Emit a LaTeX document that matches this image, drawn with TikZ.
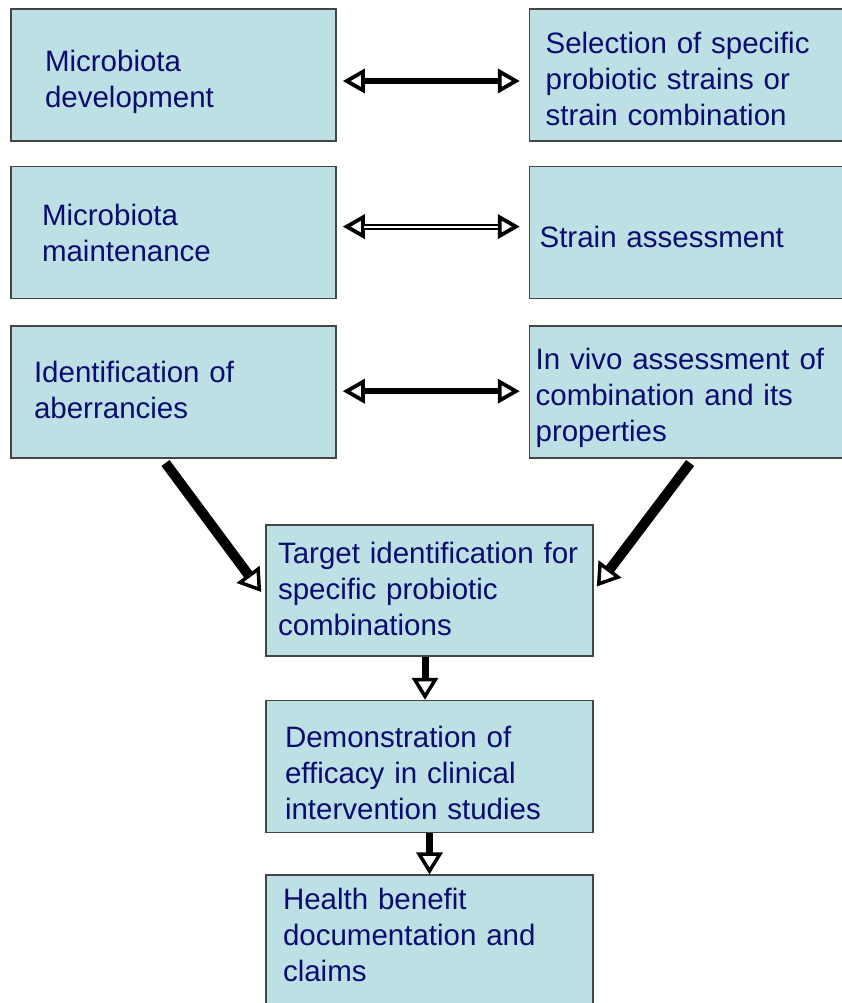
\documentclass[tikz,border=0pt]{standalone}
\usepackage{fontspec}
\setmainfont{Liberation Sans}
\usepackage{xcolor}
\usetikzlibrary{arrows.meta,positioning}

\definecolor{boxfill}{HTML}{BCE0E3}
\definecolor{boxline}{HTML}{454545}
\definecolor{navy}{HTML}{0C0C70}

\begin{document}
\begin{tikzpicture}[
  x=1pt, y=1pt,
  box/.style={draw=boxline, fill=boxfill, line width=1.6pt, align=left,
              minimum width=325pt, minimum height=132pt, inner sep=0pt,
              text=navy, font=\fontsize{29.5}{36}\selectfont},
  wide/.style={box, minimum width=331pt},
  pushdown/.style={text height=21.3pt+2*#1},
  pushup/.style={execute at end node={\endgraf\vspace*{#1}}},
  link/.style={line width=6pt,
               {Triangle[open, length=22pt, width=24pt, line width=3.8pt]}-{Triangle[open, length=22pt, width=24pt, line width=3.8pt]}},
  slant/.style={line width=10pt, -{Triangle[open, length=22pt, width=28pt, line width=3.5pt]}},
  down/.style={line width=7pt, -{Triangle[open, length=22pt, width=26pt, line width=3.5pt]}}]
  \useasboundingbox (0,0) rectangle (842,-1003);

  % left column
  \node[box, text width=257pt, pushdown=7pt] (dev) at (173.5,-75) {Microbiota\\development};
  \node[box, text width=263pt, below=24pt of dev] (maint) {Microbiota\\maintenance};
  \node[box, text width=279pt, pushup=4pt, below=26pt of maint] (ident) {Identification of\\aberrancies};

  % right column
  \node[wide, text width=299pt, pushdown=4pt, right=192pt of dev] (select)
    {Selection of specific\\probiotic strains or\\strain combination};
  \node[wide, text width=311pt, pushdown=4pt, right=192pt of maint] (assess) {Strain assessment};
  \node[wide, text width=319pt, pushdown=6pt, right=192pt of ident] (vivo)
    {In vivo assessment of\\combination and its\\properties};

  % centre column
  \node[box, minimum width=327pt, minimum height=131pt, text width=303pt, pushup=3pt] (target) at (429.5,-590.5)
    {Target identification for\\specific probiotic\\combinations};
  \node[box, minimum width=327pt, text width=289pt, pushdown=6pt, below=43pt of target] (efficacy)
    {Demonstration of\\efficacy in clinical\\intervention studies};
  \node[box, minimum width=327pt, text width=293pt, pushup=12pt, below=41pt of efficacy] (health)
    {Health benefit\\documentation and\\claims};

  % two-way links between the columns
  \draw[link, shorten <=6pt, shorten >=9pt]
    ([yshift=-6pt]dev.east) -- ([yshift=-6pt]select.west);
  \draw[link, shorten <=6pt, shorten >=9pt]
    ([yshift=6pt]maint.east) -- ([yshift=6pt]assess.west);
  \draw[white, line width=2pt, shorten <=27pt, shorten >=31pt]
    ([yshift=6pt]maint.east) -- ([yshift=6pt]assess.west);
  \draw[link, shorten <=6pt, shorten >=9pt]
    ([yshift=1pt]ident.east) -- ([yshift=1pt]vivo.west);

  % into the target box
  \draw[slant] ([xshift=-8pt, yshift=-4pt]ident.south) -- ([xshift=-4pt, yshift=-1.5pt]target.west);
  \draw[slant] ([xshift=-5pt, yshift=-4pt]vivo.south) -- ([xshift=3pt, yshift=4pt]target.east);

  % down the centre
  \draw[down] ([xshift=-4.5pt]target.south) -- ([xshift=-4.5pt]efficacy.north);
  \draw[down] (efficacy.south) -- (health.north);
\end{tikzpicture}
\end{document}
